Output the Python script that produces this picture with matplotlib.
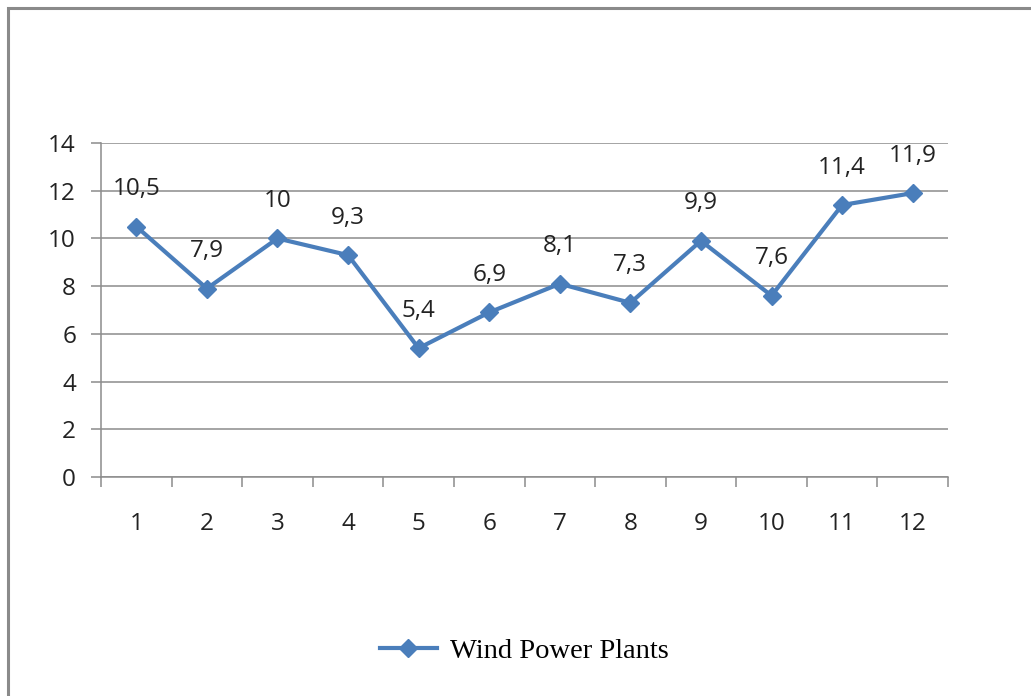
import numpy as np
import matplotlib.pyplot as plt
from matplotlib.patches import Rectangle

months = [1, 2, 3, 4, 5, 6, 7, 8, 9, 10, 11, 12]
values = [10.5, 7.9, 10, 9.3, 5.4, 6.9, 8.1, 7.3, 9.9, 7.6, 11.4, 11.9]
labels = ["10,5", "7,9", "10", "9,3", "5,4", "6,9", "8,1", "7,3", "9,9", "7,6", "11,4", "11,9"]
series_name = "Wind Power Plants"

line_color = "#4a7ebb"
grid_color = "#8c8c8c"
text_font = ["Open Sans", "DejaVu Sans"]
text_color = "#222222"

fig = plt.figure(figsize=(10.31, 6.96), dpi=100)

# outer chart border (runs off the right and bottom edges)
fig.patches.append(Rectangle((8 / 1031, -0.05), 1.1, 1 - 8 / 696 + 0.05,
                             transform=fig.transFigure, fill=False,
                             edgecolor="#8a8a8a", linewidth=2.2))

ax = fig.add_axes([101 / 1031, 1 - 477 / 696, 847 / 1031, 334 / 696])

ax.plot(months, values, color=line_color, linewidth=3, marker="D",
        markersize=9.5, label=series_name, solid_joinstyle="round")

for x, y, s in zip(months, values, labels):
    ax.annotate(s, (x, y), xytext=(0, 27), textcoords="offset points",
                ha="center", va="center", fontsize=17.5, family=text_font,
                color=text_color)

ax.set_xlim(0.5, 12.5)
ax.set_ylim(0, 14)
ax.set_yticks(np.arange(0, 15, 2))
ax.set_xticks(months)
ax.set_xticks(np.arange(0.5, 13, 1), minor=True)

ax.grid(axis="y", color=grid_color, linewidth=1.1)
ax.set_axisbelow(True)
for side in ["top", "right"]:
    ax.spines[side].set_visible(False)
for side in ["left", "bottom"]:
    ax.spines[side].set_color(grid_color)
    ax.spines[side].set_linewidth(1.1)

ax.tick_params(axis="x", which="major", length=0, pad=25, labelsize=17.5)
ax.tick_params(axis="x", which="minor", length=7, width=1.1, color=grid_color)
ax.tick_params(axis="y", length=7, width=1.1, color=grid_color, pad=11, labelsize=17.5)
for lab in ax.get_xticklabels() + ax.get_yticklabels():
    lab.set_family(text_font)
    lab.set_color(text_color)

fig.legend(loc="center", bbox_to_anchor=(524 / 1031, 1 - 651 / 696),
           frameon=False, prop={"family": "Liberation Serif", "size": 20.5},
           handlelength=2.0, handletextpad=0.45)

fig.savefig("out.png", dpi=100)
